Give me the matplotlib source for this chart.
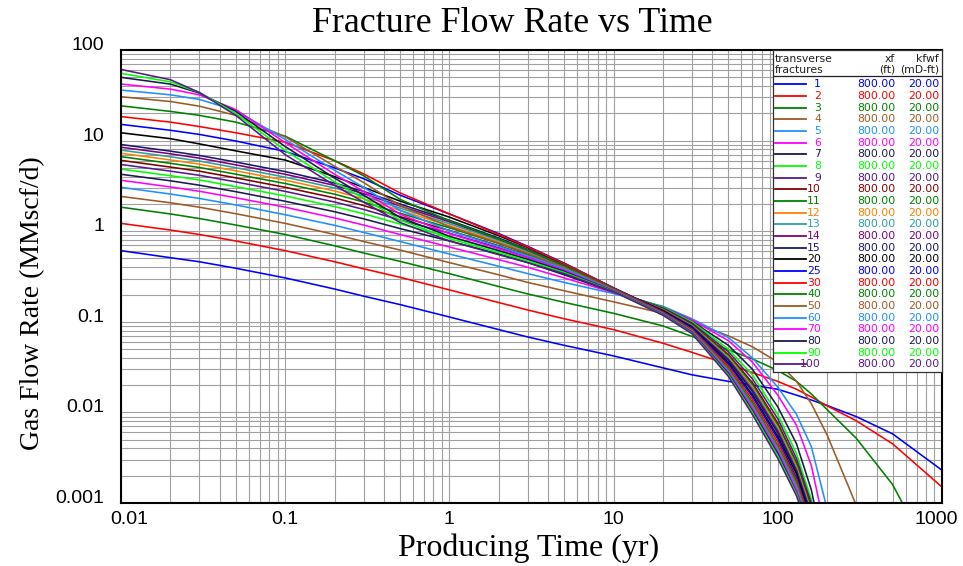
import numpy as np
import matplotlib
matplotlib.use('Agg')
import matplotlib.pyplot as plt
from matplotlib.ticker import FixedLocator, FixedFormatter, LogLocator, NullFormatter
from matplotlib.transforms import ScaledTranslation

nan = np.nan

times = [0.01, 0.02, 0.03, 0.05, 0.1, 0.2, 0.3, 0.5, 1, 2, 3, 5, 10, 20, 30, 50,
         70, 100, 130, 160, 200, 300, 500, 1000]

# gas rate (MMscf/d) for each number of transverse fractures
q_1 = [0.61, 0.51, 0.46, 0.39, 0.305, 0.23, 0.192, 0.155, 0.113, 0.082, 0.068, 0.055, 0.042, 0.031, 0.026, 0.022, 0.020, 0.018, 0.0155, 0.0137, 0.0119, 0.0090, 0.0058, 0.0023]
q_2 = [1.22, 1.03, 0.92, 0.78, 0.61, 0.46, 0.385, 0.31, 0.225, 0.163, 0.135, 0.108, 0.082, 0.058, 0.046, 0.034, 0.0275, 0.022, 0.018, 0.0148, 0.0118, 0.0081, 0.0045, 0.0015]
q_3 = [1.84, 1.55, 1.38, 1.17, 0.92, 0.69, 0.575, 0.465, 0.34, 0.245, 0.203, 0.164, 0.124, 0.090, 0.069, 0.049, 0.039, 0.029, 0.022, 0.016, 0.0107, 0.0052, 0.0016, 0.00015]
q_4 = [2.42, 2.06, 1.84, 1.56, 1.22, 0.92, 0.77, 0.62, 0.45, 0.33, 0.272, 0.22, 0.166, 0.124, 0.099, 0.070, 0.053, 0.036, 0.022, 0.0125, 0.0056, 0.00095, nan, nan]
q_5 = [3.05, 2.57, 2.30, 1.95, 1.52, 1.16, 0.97, 0.77, 0.56, 0.41, 0.34, 0.272, 0.205, 0.148, 0.108, 0.067, 0.040, 0.019, 0.0095, 0.0042, 0.00085, nan, nan, nan]
q_6 = [3.65, 3.08, 2.76, 2.34, 1.84, 1.40, 1.17, 0.92, 0.67, 0.485, 0.40, 0.305, 0.21, 0.145, 0.105, 0.062, 0.036, 0.0155, 0.0072, 0.0026, 0.0004, nan, nan, nan]
q_7 = [4.25, 3.60, 3.22, 2.73, 2.14, 1.64, 1.37, 1.07, 0.78, 0.56, 0.45, 0.33, 0.213, 0.145, 0.101, 0.055, 0.030, 0.0115, 0.0045, 0.0014, 0.0002, nan, nan, nan]
q_8 = [4.85, 4.10, 3.68, 3.10, 2.45, 1.87, 1.56, 1.20, 0.87, 0.61, 0.485, 0.35, 0.216, 0.145, 0.100, 0.050, 0.026, 0.0095, 0.0035, 0.0011, 0.0002, nan, nan, nan]
q_9 = [5.45, 4.60, 4.14, 3.50, 2.75, 2.10, 1.74, 1.33, 0.95, 0.655, 0.515, 0.365, 0.219, 0.142, 0.097, 0.0467, 0.0235, 0.0085, 0.0031, 0.00099, 0.0002, nan, nan, nan]
q_10 = [6.05, 5.10, 4.60, 3.88, 3.05, 2.33, 1.92, 1.45, 1.02, 0.69, 0.54, 0.38, 0.222, 0.139, 0.094, 0.0436, 0.0213, 0.0076, 0.0028, 0.0009, nan, nan, nan, nan]
q_11 = [6.65, 5.61, 5.05, 4.26, 3.36, 2.56, 2.10, 1.58, 1.09, 0.73, 0.56, 0.39, 0.224, 0.138, 0.093, 0.0421, 0.0202, 0.0072, 0.0027, 0.00085, nan, nan, nan, nan]
q_12 = [7.25, 6.12, 5.50, 4.64, 3.66, 2.78, 2.28, 1.70, 1.15, 0.76, 0.58, 0.40, 0.226, 0.136, 0.091, 0.0406, 0.0192, 0.0068, 0.0025, 0.00081, nan, nan, nan, nan]
q_13 = [7.85, 6.63, 5.95, 5.02, 3.95, 3.00, 2.45, 1.80, 1.21, 0.79, 0.60, 0.41, 0.228, 0.135, 0.090, 0.0395, 0.0185, 0.0065, 0.0024, 0.00078, nan, nan, nan, nan]
q_14 = [8.45, 7.15, 6.40, 5.40, 4.25, 3.20, 2.60, 1.90, 1.27, 0.815, 0.615, 0.415, 0.23, 0.134, 0.089, 0.0385, 0.0177, 0.0062, 0.0023, 0.00075, nan, nan, nan, nan]
q_15 = [9.05, 7.65, 6.85, 5.80, 4.55, 3.40, 2.75, 2.00, 1.32, 0.84, 0.63, 0.425, 0.232, 0.133, 0.088, 0.0374, 0.017, 0.0059, 0.0022, 0.00072, nan, nan, nan, nan]
q_20 = [12.2, 10.5, 9.2, 7.7, 6.1, 4.0, 3.05, 2.15, 1.43, 0.89, 0.66, 0.435, 0.236, 0.131, 0.086, 0.0353, 0.0157, 0.0054, 0.0021, 0.00066, nan, nan, nan, nan]
q_25 = [15.1, 13.0, 11.7, 9.9, 7.6, 5.0, 3.8, 2.5, 1.55, 0.94, 0.68, 0.445, 0.237, 0.1295, 0.085, 0.0341, 0.015, 0.0051, 0.0019, 0.00063, nan, nan, nan, nan]
q_30 = [18.4, 16.0, 14.3, 12.2, 9.6, 6.0, 4.3, 2.65, 1.55, 0.92, 0.67, 0.44, 0.235, 0.128, 0.083, 0.0325, 0.0139, 0.0047, 0.0018, 0.00059, nan, nan, nan, nan]
q_40 = [24.2, 21.0, 19.0, 16.0, 11.2, 6.0, 4.1, 2.25, 1.30, 0.82, 0.62, 0.42, 0.23, 0.1255, 0.081, 0.0308, 0.0129, 0.0043, 0.0017, 0.00054, nan, nan, nan, nan]
q_50 = [30.5, 27.0, 24.0, 19.0, 11.0, 5.2, 3.45, 1.92, 1.12, 0.74, 0.57, 0.40, 0.226, 0.124, 0.080, 0.0297, 0.0122, 0.0041, 0.0016, 0.00052, nan, nan, nan, nan]
q_60 = [36.1, 32.0, 28.5, 21.5, 10.3, 4.7, 3.05, 1.70, 1.01, 0.68, 0.535, 0.385, 0.223, 0.123, 0.0785, 0.0287, 0.0116, 0.0039, 0.0015, 0.00049, nan, nan, nan, nan]
q_70 = [42.1, 37.0, 32.0, 22.0, 9.5, 4.25, 2.75, 1.54, 0.94, 0.64, 0.51, 0.37, 0.221, 0.1216, 0.0774, 0.0277, 0.0111, 0.0037, 0.0014, 0.00047, nan, nan, nan, nan]
q_80 = [49.9, 42.0, 33.5, 21.0, 8.6, 3.85, 2.50, 1.42, 0.88, 0.61, 0.49, 0.36, 0.219, 0.1205, 0.0762, 0.0268, 0.0105, 0.0035, 0.0013, 0.00044, nan, nan, nan, nan]
q_90 = [55.3, 44.5, 34.0, 20.0, 7.8, 3.5, 2.30, 1.33, 0.83, 0.58, 0.47, 0.35, 0.217, 0.119, 0.075, 0.0259, 0.0100, 0.0033, 0.00126, 0.00042, nan, nan, nan, nan]
q_100 = [61.0, 47.0, 34.0, 19.0, 7.0, 3.2, 2.10, 1.25, 0.78, 0.55, 0.45, 0.34, 0.215, 0.118, 0.074, 0.025, 0.0095, 0.0031, 0.0012, 0.0004, nan, nan, nan, nan]

fractures = [1, 2, 3, 4, 5, 6, 7, 8, 9, 10, 11, 12, 13, 14, 15, 20, 25, 30, 40, 50, 60, 70, 80, 90, 100]
rates = [q_1, q_2, q_3, q_4, q_5, q_6, q_7, q_8, q_9, q_10, q_11, q_12, q_13, q_14, q_15,
         q_20, q_25, q_30, q_40, q_50, q_60, q_70, q_80, q_90, q_100]
xf = ['800.00'] * len(fractures)
kfwf = ['20.00'] * len(fractures)

colors = ['#0000ff', '#ff0000', '#008000', '#9c5b26', '#1e90ff', '#ff00ff', '#1a1a4d', '#00ff00',
          '#551a8b', '#800000', '#008000', '#ff8000', '#2e9e9e', '#800080', '#191970', '#000000',
          '#0000ff', '#ff0000', '#008000', '#9c5b26', '#1e90ff', '#ff00ff', '#1a1a4d', '#00ff00',
          '#551a8b']

x_ticks = [0.01, 0.1, 1, 10, 100, 1000]
x_labels = ['0.01', '0.1', '1', '10', '100', '1000']
y_ticks = [0.001, 0.01, 0.1, 1, 10, 100]
y_labels = ['0.001', '0.01', '0.1', '1', '10', '100']

W, H = 963, 566
fig = plt.figure(figsize=(W / 100, H / 100), dpi=100)
ax = fig.add_axes([121 / W, 1 - 503 / H, 821 / W, 453 / H])
ax.set_xscale('log')
ax.set_yscale('log')

for q, c in zip(rates, colors):
    ax.plot(times, q, color=c, lw=1.15)

ax.set_xlim(0.01, 1000)
ax.set_ylim(0.001, 100)
ax.xaxis.set_major_locator(FixedLocator(x_ticks))
ax.xaxis.set_major_formatter(FixedFormatter(x_labels))
ax.yaxis.set_major_locator(FixedLocator(y_ticks))
ax.yaxis.set_major_formatter(FixedFormatter(y_labels))
ax.xaxis.set_minor_locator(LogLocator(base=10, subs=range(2, 10), numticks=20))
ax.yaxis.set_minor_locator(LogLocator(base=10, subs=range(2, 10), numticks=20))
ax.xaxis.set_minor_formatter(NullFormatter())
ax.yaxis.set_minor_formatter(NullFormatter())
ax.grid(True, which='both', color='#a0a0a0', lw=0.8)
ax.set_axisbelow(True)
ax.tick_params(which='both', length=0)
ax.tick_params(axis='x', pad=6)
ax.tick_params(axis='y', pad=12)
for s in ax.spines.values():
    s.set_linewidth(1.5)
    s.set_color('black')

for lab in ax.get_xticklabels() + ax.get_yticklabels():
    lab.set_fontfamily('Liberation Sans')
    lab.set_fontsize(14)
for lab in ax.get_yticklabels():
    lab.set_verticalalignment('baseline')
xl = ax.get_xticklabels()
xl[0].set_transform(xl[0].get_transform() + ScaledTranslation(8 / 100, 0, fig.dpi_scale_trans))
xl[-1].set_transform(xl[-1].get_transform() + ScaledTranslation(-6 / 100, 0, fig.dpi_scale_trans))

fig.text(512 / W, 1 - 24 / H, 'Fracture Flow Rate vs Time', ha='center', va='center',
         fontsize=25.8, family='Liberation Serif')
fig.text(529 / W, 1 - 548 / H, 'Producing Time (yr)', ha='center', va='center',
         fontsize=23, family='Liberation Serif')
fig.text(33 / W, 1 - 303 / H, 'Gas Flow Rate (MMscf/d)', ha='center', va='center',
         rotation=90, fontsize=20, family='Liberation Serif')

# legend table, laid out in pixel units
lx0, lx1, ly0, ly1 = 773, 942, 50, 372
leg = fig.add_axes([lx0 / W, 1 - ly1 / H, (lx1 - lx0) / W, (ly1 - ly0) / H])
leg.set_xlim(lx0, lx1)
leg.set_ylim(ly1, ly0)
leg.set_xticks([])
leg.set_yticks([])
leg.set_facecolor('white')
for s in leg.spines.values():
    s.set_linewidth(0.9)
    s.set_color('#303030')

fs = 7.8
hdr = dict(fontsize=fs, family='DejaVu Sans', va='center', color='#202020')
leg.text(775, 59, 'transverse', ha='left', **hdr)
leg.text(775, 70, 'fractures', ha='left', **hdr)
leg.text(895, 59, 'xf', ha='right', **hdr)
leg.text(895, 70, '(ft)', ha='right', **hdr)
leg.text(939, 59, 'kfwf', ha='right', **hdr)
leg.text(939, 70, '(mD-ft)', ha='right', **hdr)
leg.plot([lx0, lx1], [76, 76], color='#202020', lw=0.9)

for i, (n, c) in enumerate(zip(fractures, colors)):
    y = 84.3 + 11.67 * i
    leg.plot([775, 806], [y, y], color=c, lw=1.3)
    leg.text(821, y, str(n), ha='right', va='center', fontsize=fs, family='DejaVu Sans', color=c)
    leg.text(895, y, xf[i], ha='right', va='center', fontsize=fs, family='DejaVu Sans', color=c)
    leg.text(939, y, kfwf[i], ha='right', va='center', fontsize=fs, family='DejaVu Sans', color=c)

fig.savefig('out.png', dpi=100)
